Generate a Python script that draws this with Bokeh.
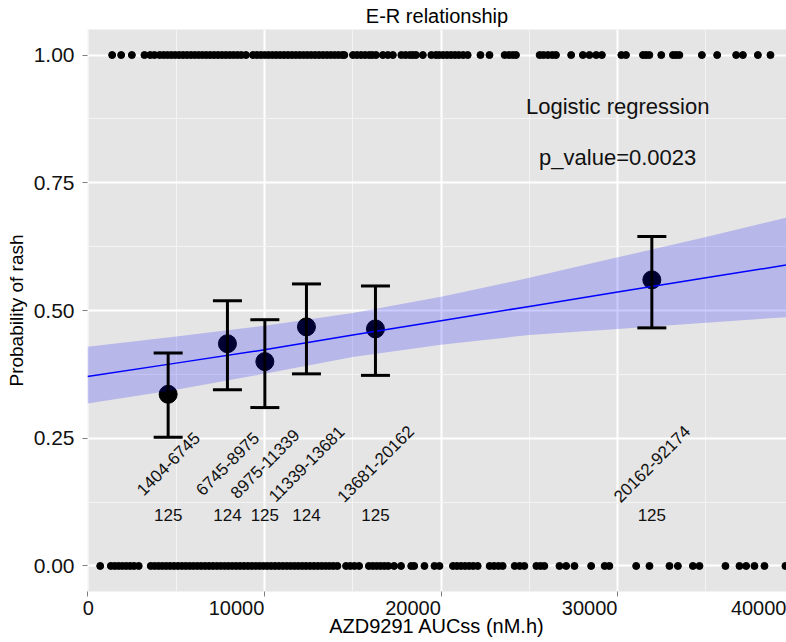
from bokeh.plotting import figure
from bokeh.models import (Range1d, FixedTicker, Label, Whisker, TeeHead, Title,
                          ColumnDataSource, NumeralTickFormatter)
from bokeh.embed import file_html
from bokeh.resources import INLINE
from bokeh.core.properties import value

# ---------------- data ----------------
# subjects with rash (outcome = 1), AUCss values
event_x = [1376, 1886, 2492, 3205, 3528, 3771,
           4066, 4290, 4510, 4730, 4950, 5170, 5390, 5610, 5830, 6050, 6270, 6490,
           6710, 6930, 7150, 7370, 7590, 7810, 8030, 8250, 8470, 8690, 8952,
           9349, 9570, 9790, 10010, 10230, 10450, 10670, 10890, 11110, 11330, 11550,
           11770, 11990, 12210, 12430, 12650, 12870, 13090, 13310, 13530, 13750,
           13970, 14190, 14410, 14524,
           15011, 15240, 15470, 15700, 15930, 16100, 16314,
           16704, 16988, 17271,
           17752, 17990, 18230, 18400, 18579,
           18969,
           19450, 19711, 19900, 20120, 20340, 20560, 20780, 21000, 21250, 21506,
           22231, 22741,
           23601, 23840, 24050, 24241,
           25583, 25800, 26050, 26300, 26506,
           27367,
           28029, 28403, 28783, 29105,
           30210, 30470,
           31433, 31610, 31795,
           32469,
           33131, 33310, 33493,
           34768, 35634, 36710, 37090, 37939, 38652]

# subjects without rash (outcome = 0)
nonevent_x = [700,
              1300, 1520, 1740, 1960, 2180, 2400, 2620, 2880,
              3560, 3780, 4000, 4220, 4440, 4660, 4880, 5100, 5320, 5540, 5760, 5980,
              6200, 6420, 6640, 6860, 7080, 7300, 7520, 7740, 7960, 8180, 8400, 8620,
              8840, 9060, 9280, 9500, 9720, 9940, 10160, 10380, 10600, 10820, 11040,
              11260, 11480, 11700, 11920, 12140, 12360, 12580, 12800, 13020, 13240,
              13460, 13680, 13900, 14130,
              14620, 14860, 15100, 15360,
              15910, 16130, 16350, 16570, 16790, 17010, 17340,
              17733,
              18310, 18480,
              19060,
              19626, 19910,
              20674, 20900, 21130, 21360, 21590, 21820, 22073,
              22752, 23000, 23250, 23488,
              24168, 24450, 24717,
              25396, 25630, 25849,
              26704, 27084, 27554,
              28499,
              29264, 29530,
              31048, 31801,
              32933, 33409,
              34258, 34632,
              36104,
              36897, 37276,
              37746, 38312,
              39500]

# exposure bins (median AUCss in bin, observed proportion with 95% CI)
bin_labels = ["1404-6745", "6745-8975", "8975-11339", "11339-13681", "13681-20162", "20162-92174"]
bin_x = [4547, 7904, 10022, 12378, 16285, 31935]
bin_n = ["125", "124", "125", "124", "125", "125"]
bin_prob = [0.336, 0.435, 0.400, 0.468, 0.464, 0.560]
bin_lower = [0.252, 0.345, 0.310, 0.376, 0.373, 0.466]
bin_upper = [0.417, 0.519, 0.482, 0.552, 0.548, 0.645]

# logistic regression fit and confidence band
fit_x = [-20, 5000, 10000, 15000, 20000, 25000, 30000, 35000, 39560]
fit_p = [0.371, 0.397, 0.423, 0.452, 0.480, 0.508, 0.536, 0.564, 0.589]
fit_lo = [0.318, 0.345, 0.376, 0.409, 0.433, 0.452, 0.464, 0.476, 0.487]
fit_hi = [0.429, 0.449, 0.470, 0.495, 0.527, 0.564, 0.604, 0.644, 0.682]

x_ticks = [0, 10000, 20000, 30000, 40000]
x_tick_labels = ["0", "10000", "20000", "30000", "40000"]
x_minor = [5000, 15000, 25000, 35000]
y_ticks = [0, 0.25, 0.5, 0.75, 1.0]
y_minor = [0.125, 0.375, 0.625, 0.875]

FONT = "Liberation Sans"
W, H = 786, 642
LEFT = 87
X0, X1 = -20, 39560
LABEL_SHIFT_PX = 28          # tick labels sit right-aligned at their ticks

# ---------------- figure ----------------
px_per_unit = (W - LEFT) / (X1 - X0)
d = LABEL_SHIFT_PX / px_per_unit

p = figure(width=W, height=H,
           x_range=Range1d(X0, X1), y_range=Range1d(-0.05, 1.05),
           output_backend="svg", toolbar_location=None,
           min_border_left=LEFT, min_border_right=0, min_border_top=28, min_border_bottom=51,
           background_fill_color="#e5e5e5", border_fill_color="white",
           outline_line_color=None)
p.title = Title(text="E-R relationship", align="center", text_font=FONT,
                text_font_size="20px", text_font_style="normal",
                text_color="black", standoff=5)

# x axis: label positions in a range shifted by half a label width
p.extra_x_ranges = {"lab": Range1d(X0 + d, X1 + d)}
p.xaxis.x_range_name = "lab"
first_lab = int(X0 + d) + 40
lab_pos = [first_lab] + [t for t in x_ticks[1:]]
p.xaxis.ticker = FixedTicker(ticks=lab_pos, minor_ticks=[t + d for t in x_ticks])
p.xaxis.major_label_overrides = {pos: txt for pos, txt in zip(lab_pos, x_tick_labels)}
p.xaxis.major_tick_line_color = None
p.xaxis.major_tick_out = 5
p.xaxis.minor_tick_out = 5
p.xaxis.minor_tick_in = 0
p.xaxis.minor_tick_line_color = "#7f7f7f"
p.xaxis.major_label_text_font_size = "20px"
p.xaxis.major_label_standoff = 4
p.xaxis.axis_label = "AZD9291 AUCss (nM.h)"
p.xaxis.axis_label_text_font_size = "20px"
p.xaxis.axis_label_standoff = -3

p.xgrid.ticker = FixedTicker(ticks=x_ticks, minor_ticks=x_minor)
p.yaxis.ticker = FixedTicker(ticks=y_ticks, minor_ticks=y_minor)
p.yaxis.formatter = NumeralTickFormatter(format="0.00")

for g in (p.xgrid, p.ygrid):
    g.grid_line_color = "white"
    g.grid_line_width = 2
    g.minor_grid_line_color = "#f4f4f4"
    g.minor_grid_line_width = 1

for ax in (p.xaxis, p.yaxis):
    ax.axis_line_color = None
    ax.axis_label_text_font = FONT
    ax.axis_label_text_font_style = "normal"
    ax.axis_label_text_color = "black"
    ax.major_label_text_font = FONT
    ax.major_label_text_color = "#111111"

p.yaxis.major_tick_in = 0
p.yaxis.major_tick_out = 5
p.yaxis.major_tick_line_color = "#7f7f7f"
p.yaxis.minor_tick_line_color = None
p.yaxis.axis_label = "Probability of rash"
p.yaxis.axis_label_text_font_size = "19px"
p.yaxis.major_label_text_font_size = "21px"
p.yaxis.major_label_standoff = 8
p.yaxis.axis_label_standoff = 4

# rug of individual outcomes
p.scatter(event_x, [1] * len(event_x), size=7, color="black")
p.scatter(nonevent_x, [0] * len(nonevent_x), size=7, color="black")

# observed proportions with error bars
bsrc = ColumnDataSource(dict(x=bin_x, p=bin_prob, lo=bin_lower, hi=bin_upper,
                             lab=bin_labels, n=bin_n))
wh = Whisker(base="x", upper="hi", lower="lo", source=bsrc, dimension="height",
             line_color="black", line_width=3, level="glyph",
             upper_head=TeeHead(size=29, line_color="black", line_width=3),
             lower_head=TeeHead(size=29, line_color="black", line_width=3))
p.add_layout(wh)
p.scatter("x", "p", source=bsrc, size=18, color="black")

# logistic fit with confidence band
p.varea(x=fit_x, y1=fit_lo, y2=fit_hi, fill_color="blue", fill_alpha=0.2)
p.line(fit_x, fit_p, line_color="blue", line_width=1.5)

# bin annotations
p.text(x="x", y=0.2, text="lab", source=bsrc, angle=45, angle_units="deg",
       text_align="center", text_baseline="middle",
       text_font=value(FONT), text_font_size="17px", text_color="#111111")
p.text(x="x", y=0.1, text="n", source=bsrc,
       text_align="center", text_baseline="middle",
       text_font=value(FONT), text_font_size="17px", text_color="#111111")

p.add_layout(Label(x=30000, y=0.9, text="Logistic regression", text_align="center",
                   text_baseline="middle", text_font=FONT, text_font_size="22px",
                   text_color="#111111"))
p.add_layout(Label(x=30000, y=0.8, text="p_value=0.0023", text_align="center",
                   text_baseline="middle", text_font=FONT, text_font_size="22px",
                   text_color="#111111"))

open("out.html", "w").write(file_html(p, INLINE))
